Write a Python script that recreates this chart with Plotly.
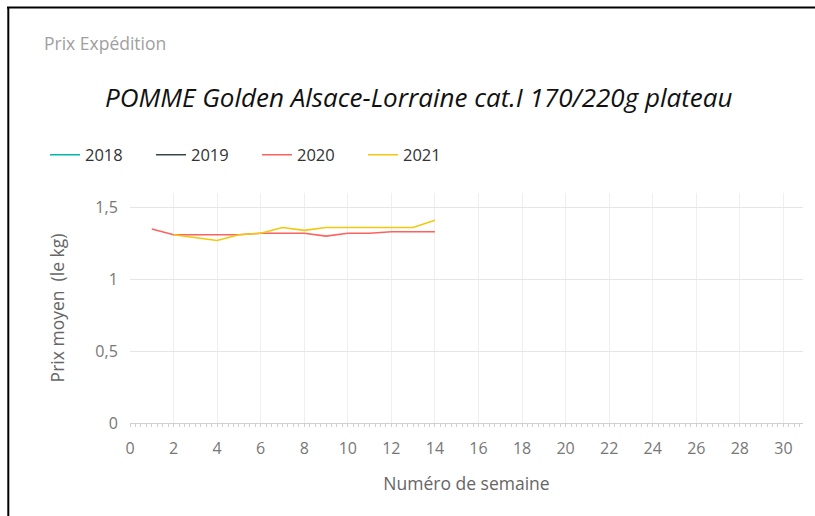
import plotly.graph_objects as go

years = ["2018", "2019", "2020", "2021"]
colors = ["#01B8AA", "#374649", "#FD625E", "#F2C80F"]

weeks_2018 = []
prix_2018 = []
weeks_2019 = []
prix_2019 = []
weeks_2020 = [1, 2, 3, 4, 5, 6, 7, 8, 9, 10, 11, 12, 13, 14]
prix_2020 = [1.35, 1.31, 1.31, 1.31, 1.31, 1.32, 1.32, 1.32, 1.30, 1.32, 1.32, 1.33, 1.33, 1.33]
weeks_2021 = [2, 3, 4, 5, 6, 7, 8, 9, 10, 11, 12, 13, 14]
prix_2021 = [1.31, 1.29, 1.27, 1.31, 1.32, 1.36, 1.34, 1.36, 1.36, 1.36, 1.36, 1.36, 1.41]

xs = [weeks_2018, weeks_2019, weeks_2020, weeks_2021]
ys = [prix_2018, prix_2019, prix_2020, prix_2021]

W, H = 815, 516
ML, MT = 130, 193
MR = W - 803
MB = H - 423
PW, PH = W - ML - MR, H - MT - MB

def px(x):  # page pixel -> paper x
    return (x - ML) / PW

def py(y):  # page pixel -> paper y
    return (H - MB - y) / PH

fig = go.Figure()
for name, c, x, y in zip(years, colors, xs, ys):
    fig.add_trace(go.Scatter(
        x=x if x else [None], y=y if y else [None], name=name, mode="lines",
        line=dict(color=c, width=1.6),
    ))

font = "Segoe UI, Open Sans, sans-serif"
fig.update_layout(
    width=W, height=H,
    margin=dict(l=ML, r=MR, t=MT, b=MB),
    paper_bgcolor="white", plot_bgcolor="white",
    font=dict(family=font, size=16, color="#777777"),
    showlegend=True,
    legend=dict(orientation="h", x=px(45), y=py(155), xanchor="left", yanchor="middle",
                font=dict(size=16.5, color="#333333"), entrywidth=61, entrywidthmode="pixels",
                tracegroupgap=0),
    xaxis=dict(range=[0, 30.9], dtick=2, tick0=0, showgrid=True, gridcolor="#efefef",
               zeroline=False, showline=True, linecolor="#d0d0d0", linewidth=1,
               ticks="outside", ticklen=3, tickcolor="#d0d0d0", ticklabelstandoff=8,
               tickfont=dict(size=16, color="#777777"),
               minor=dict(dtick=0.25, ticks="outside", ticklen=3, tickcolor="#d0d0d0", showgrid=False),
               title=dict(text="Numéro de semaine", font=dict(size=17.5, color="#666666"), standoff=19)),
    yaxis=dict(range=[0, 1.6], tickvals=[0, 0.5, 1, 1.5], ticktext=["0", "0,5", "1", "1,5"],
               showgrid=True, gridcolor="#e6e6e6", zeroline=False, showline=False,
               ticks="outside", ticklen=8, tickcolor="rgba(0,0,0,0)",
               tickfont=dict(size=16, color="#777777"),
               title=dict(text="Prix moyen\u00a0 (le kg)", font=dict(size=17.5, color="#666666"), standoff=26)),
    annotations=[
        dict(text="Prix Expédition", x=px(42), y=py(43), xref="paper", yref="paper",
             xanchor="left", yanchor="middle", showarrow=False,
             font=dict(size=17.5, color="#a0a0a0", family=font)),
        dict(text="<i>POMME Golden Alsace-Lorraine cat.I 170/220g plateau</i>", x=px(418), y=py(97),
             xref="paper", yref="paper", xanchor="center", yanchor="middle", showarrow=False,
             font=dict(size=26, color="#111111", family=font)),
    ],
    shapes=[
        dict(type="line", xref="paper", yref="paper", x0=px(7), x1=px(815), y0=py(7.5), y1=py(7.5),
             line=dict(color="black", width=2)),
        dict(type="line", xref="paper", yref="paper", x0=px(8.3), x1=px(8.3), y0=py(7), y1=py(516),
             line=dict(color="black", width=2)),
    ],
)

fig.write_html(
    "out.html",
    config={"displayModeBar": False},
    post_script="document.body.style.margin='0';document.body.style.overflow='hidden';",
)
